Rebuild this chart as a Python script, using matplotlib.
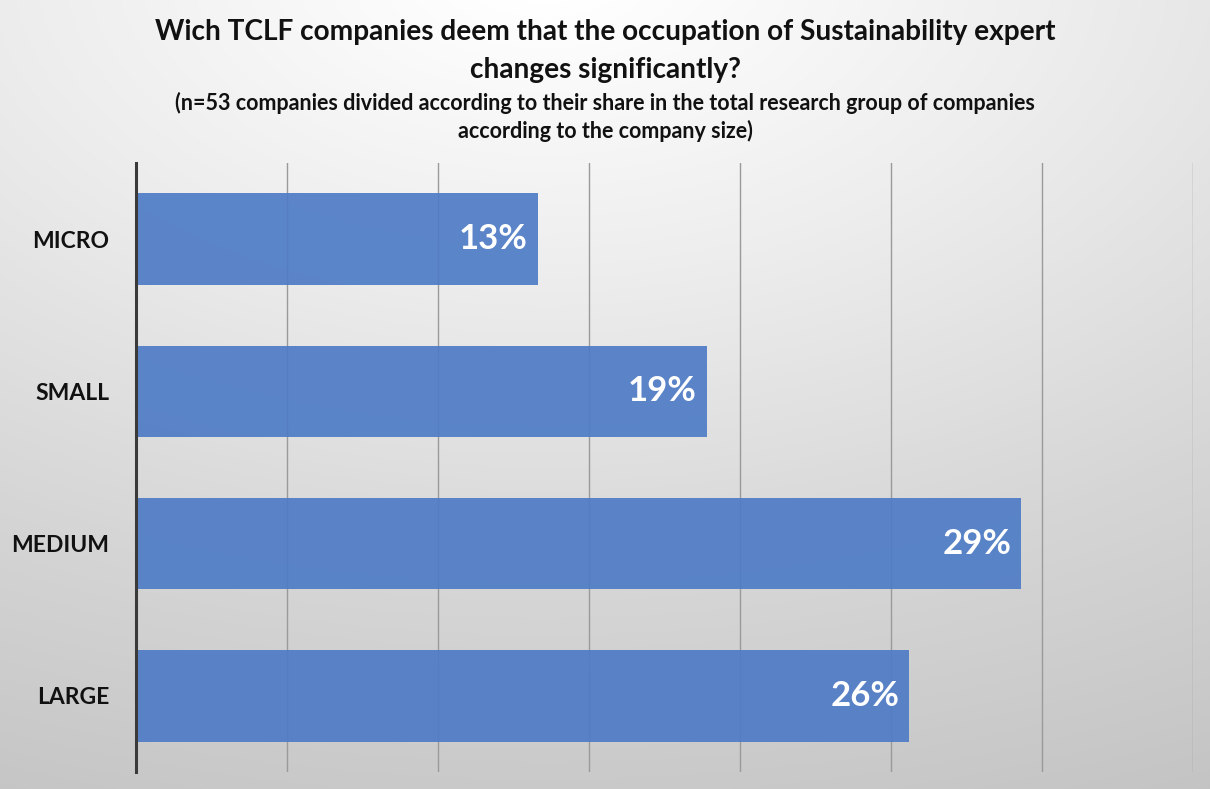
import numpy as np
import matplotlib.pyplot as plt
from matplotlib.colors import LinearSegmentedColormap

categories = ["MICRO", "SMALL", "MEDIUM", "LARGE"]
values = [13.3, 18.9, 29.3, 25.6]
labels = ["13%", "19%", "29%", "26%"]

W, H = 1210, 789
fig = plt.figure(figsize=(W / 100, H / 100), dpi=100)

# background gradient
bg = fig.add_axes([0, 0, 1, 1], zorder=-10)
yy, xx = np.mgrid[0:H, 0:W]
d = np.sqrt(((xx - W * 0.45) / W) ** 2 + ((yy + H * 0.05) / H) ** 2 * 1.2)
d = d / d.max()
cmap = LinearSegmentedColormap.from_list("bg", ["#ffffff", "#ececec", "#d6d6d6", "#c4c4c4"])
bg.imshow(d, cmap=cmap, aspect="auto", extent=[0, 1, 0, 1], origin="upper")
bg.set_axis_off()

ax = fig.add_axes([136 / W, 1 - 772 / H, (1193 - 136) / W, (772 - 163) / H])
ax.patch.set_alpha(0)
y = np.arange(len(categories))
ax.barh(y, values, height=0.6, color="#4f7cc6", alpha=0.92, zorder=3)
ax.set_xlim(0, 35)
ax.set_ylim(3.5, -0.5)
ax.set_xticks(np.arange(0, 36, 5))
ax.set_xticklabels([])
ax.tick_params(axis="x", length=0)
ax.tick_params(axis="y", length=0, pad=19)
ax.set_yticks(y)
ax.set_yticklabels(categories, fontsize=16.5, fontweight="bold", family="Lato", color="#111111")
ax.grid(axis="x", color="#9a9a9a", linewidth=1, zorder=1)
for s in ["top", "right", "bottom"]:
    ax.spines[s].set_visible(False)
ax.spines["left"].set_color("#3a3a3a")
ax.spines["left"].set_linewidth(2.2)
ax.spines["left"].set_zorder(5)

for yi, v, lab in zip(y, values, labels):
    ax.annotate(lab, xy=(v, yi), xytext=(-7, 0), textcoords="offset points",
                ha="right", va="center", color="white", fontsize=25,
                fontweight="bold", family="Lato", zorder=6)

fig.text(0.5, 1 - 32 / H, "Wich TCLF companies deem that the occupation of Sustainability expert",
         ha="center", va="center", fontsize=20.2, fontweight="bold", family="Lato", color="#111111")
fig.text(0.5, 1 - 70 / H, "changes significantly?",
         ha="center", va="center", fontsize=20.2, fontweight="bold", family="Lato", color="#111111")
fig.text(0.5, 1 - 103 / H, "(n=53 companies divided according to their share in the total research group of companies",
         ha="center", va="center", fontsize=15.5, fontweight="bold", family="Lato", color="#111111")
fig.text(0.5, 1 - 131 / H, "according to the company size)",
         ha="center", va="center", fontsize=15.5, fontweight="bold", family="Lato", color="#111111")

fig.savefig("out.png", dpi=100)
